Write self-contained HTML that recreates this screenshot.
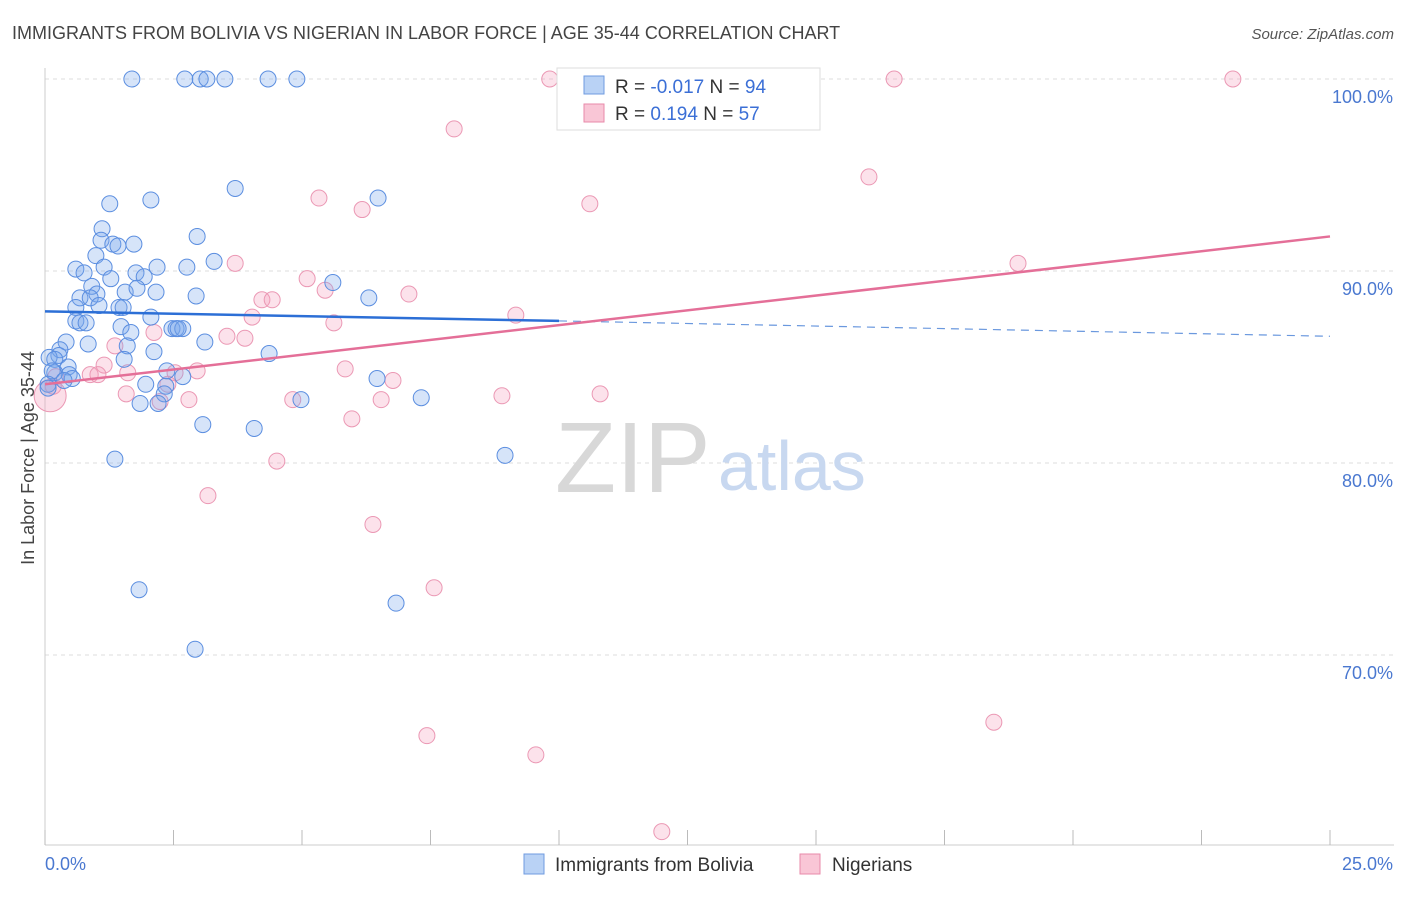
<!DOCTYPE html>
<html><head><meta charset="utf-8"><style>
body{margin:0;background:#fff;font-family:"Liberation Sans",sans-serif}
svg text{font-family:"Liberation Sans",sans-serif}
</style></head><body>
<svg id="chart" width="1406" height="892" xmlns="http://www.w3.org/2000/svg">
<text x="12" y="39" font-size="18" fill="#444">IMMIGRANTS FROM BOLIVIA VS NIGERIAN IN LABOR FORCE | AGE 35-44 CORRELATION CHART</text>
<text x="1394" y="39" font-size="15" fill="#555" font-style="italic" text-anchor="end">Source: ZipAtlas.com</text>
<text transform="translate(34,458) rotate(-90)" font-size="18" fill="#444" text-anchor="middle">In Labor Force | Age 35-44</text>
<g id="grid"></g>
<g>
<text x="555" y="492" font-size="100" fill="#d8d8d8" font-family="Liberation Serif, serif">ZIP</text>
<text x="718" y="490" font-size="70" fill="#c8d8f0">atlas</text>
</g>
<g id="pts"></g>
<g id="trends"></g>
<g>
<rect x="557" y="68" width="263" height="62" fill="#fff" stroke="#ddd"/>
<rect x="584" y="76" width="20" height="18" fill="#b9d2f5" stroke="#6f9be0"/>
<rect x="584" y="104" width="20" height="18" fill="#f9c6d6" stroke="#e88aaa"/>
<text x="615" y="93" font-size="19" fill="#333">R = <tspan fill="#3b6fd6">-0.017</tspan>   N = <tspan fill="#3b6fd6">94</tspan></text>
<text x="615" y="120" font-size="19" fill="#333">R =   <tspan fill="#3b6fd6">0.194</tspan>   N = <tspan fill="#3b6fd6">57</tspan></text>
</g>
<g>
<rect x="524" y="854" width="20" height="20" fill="#b9d2f5" stroke="#6f9be0"/>
<text x="555" y="871" font-size="19" fill="#333">Immigrants from Bolivia</text>
<rect x="800" y="854" width="20" height="20" fill="#f9c6d6" stroke="#e88aaa"/>
<text x="832" y="871" font-size="19" fill="#333">Nigerians</text>
</g>
</svg>
<script>
const xTicks=[0,2.5,5,7.5,10,12.5,15,17.5,20,22.5,25];
const yTicks=[100,90,80,70];
const yTickLabels=["100.0%","90.0%","80.0%","70.0%"];
const xEndLabels=["0.0%","25.0%"];
const boliviaX=[1.69,2.72,3.02,3.15,3.50,4.34,4.90,3.70,2.06,1.26,6.48,2.96,1.11,1.09,1.32,1.42,1.73,0.99,1.15,0.60,0.76,1.77,1.93,2.18,2.76,3.29,1.28,0.91,1.01,0.68,0.88,1.56,1.79,2.16,2.94,5.60,6.30,0.60,1.05,1.44,1.52,0.60,0.68,0.80,2.06,1.48,1.67,2.47,2.55,2.68,2.59,0.84,1.60,2.12,3.11,0.41,0.29,0.27,0.08,0.19,4.36,1.54,0.45,0.19,0.14,0.47,0.53,0.37,0.06,0.06,2.37,2.68,1.96,2.35,2.32,6.46,1.85,2.20,4.98,7.32,3.07,4.07,1.36,8.95,1.83,6.83,2.92];
const boliviaY=[100,100,100,100,100,100,100,94.3,93.7,93.5,93.8,91.8,92.2,91.6,91.4,91.3,91.4,90.8,90.2,90.1,89.9,89.9,89.7,90.2,90.2,90.5,89.6,89.2,88.8,88.6,88.6,88.9,89.1,88.9,88.7,89.4,88.6,88.1,88.2,88.1,88.1,87.4,87.3,87.3,87.6,87.1,86.8,87.0,87.0,87.0,87.0,86.2,86.1,85.8,86.3,86.3,85.9,85.6,85.5,85.4,85.7,85.4,85.0,84.7,84.8,84.6,84.4,84.3,84.1,83.9,84.8,84.5,84.1,84.0,83.6,84.4,83.1,83.1,83.3,83.4,82.0,81.8,80.2,80.4,73.4,72.7,70.3];
const nigerianX=[9.82,11.91,16.52,23.11,7.96,16.03,10.60,5.33,6.17,3.70,18.93,5.10,5.45,4.22,4.42,7.08,4.03,5.62,9.16,3.54,3.89,1.36,2.12,2.96,2.53,1.15,0.88,1.03,1.61,0.21,0.16,5.84,6.77,6.54,4.82,2.80,1.58,2.39,2.24,8.89,10.80,5.97,4.51,3.17,6.38,7.57,18.46,7.43,9.55,12.00];
const nigerianY=[100,100,100,100,97.4,94.9,93.5,93.8,93.2,90.4,90.4,89.6,89.0,88.5,88.5,88.8,87.6,87.3,87.7,86.6,86.5,86.1,86.8,84.8,84.7,85.1,84.6,84.6,84.7,84.5,84.0,84.9,84.3,83.3,83.3,83.3,83.6,84.1,83.2,83.5,83.6,82.3,80.1,78.3,76.8,73.5,66.5,65.8,64.8,60.8];
const bigNigerian=[0.10,83.5];
const blueTrend=[87.9,87.4,86.6]; // at x=0, 10, 25
const pinkTrend=[84.1,91.8]; // at x=0, 25
const X=v=>45+v*51.4, Y=v=>79+(100-v)*19.2;
const NS="http://www.w3.org/2000/svg";
function mk(tag,attrs,parent){const e=document.createElementNS(NS,tag);for(const k in attrs)e.setAttribute(k,attrs[k]);parent.appendChild(e);return e;}
const grid=document.getElementById('grid');
yTicks.forEach((t,i)=>{
 const l=mk('line',{x1:45,x2:1394,y1:Y(t),y2:Y(t),stroke:'#ddd','stroke-dasharray':'4,4'},grid);
 
 
 const tx=mk('text',{x:1393,y:Y(t)+24,'font-size':18,fill:'#4a78d0','text-anchor':'end'},grid);
 tx.textContent=yTickLabels[i];
 
 
});
const ax=mk('line',{x1:45,x2:45,y1:68,y2:845,stroke:'#ccc'},grid);


const bx=mk('line',{x1:45,x2:1394,y1:845,y2:845,stroke:'#ccc'},grid);


xTicks.forEach(t=>{const l=mk('line',{x1:X(t),x2:X(t),y1:830,y2:845,stroke:'#bbb'},grid);
 
 });
const xl0=mk('text',{x:45,y:870,'font-size':18,fill:'#4a78d0'},grid);xl0.textContent=xEndLabels[0];


const xl1=mk('text',{x:1393,y:870,'font-size':18,fill:'#4a78d0','text-anchor':'end'},grid);xl1.textContent=xEndLabels[1];


const pts=document.getElementById('pts');
nigerianX.forEach((x,i)=>{const c=mk('circle',{cx:X(x),cy:Y(nigerianY[i]),r:8,fill:'rgba(244,160,190,0.3)',stroke:'#eb98b4','stroke-width':1},pts);
 
 });
const bc=mk('circle',{cx:X(bigNigerian[0]),cy:Y(bigNigerian[1]),r:16,fill:'rgba(244,160,190,0.35)',stroke:'#eb98b4'},pts);


boliviaX.forEach((x,i)=>{const c=mk('circle',{cx:X(x),cy:Y(boliviaY[i]),r:8,fill:'rgba(120,165,235,0.3)',stroke:'#5b8ee0','stroke-width':1},pts);
 
 });
const tr=document.getElementById('trends');
const b1=mk('line',{x1:X(0),y1:Y(blueTrend[0]),x2:X(10),y2:Y(blueTrend[1]),stroke:'#2c6fd6','stroke-width':2.5},tr);


const b2=mk('line',{x1:X(10),y1:Y(blueTrend[1]),x2:X(25),y2:Y(blueTrend[2]),stroke:'#6a98de','stroke-width':1.2,'stroke-dasharray':'8,6'},tr);


const p1=mk('line',{x1:X(0),y1:Y(pinkTrend[0]),x2:X(25),y2:Y(pinkTrend[1]),stroke:'#e46f98','stroke-width':2.5},tr);


</script>
</body></html>
